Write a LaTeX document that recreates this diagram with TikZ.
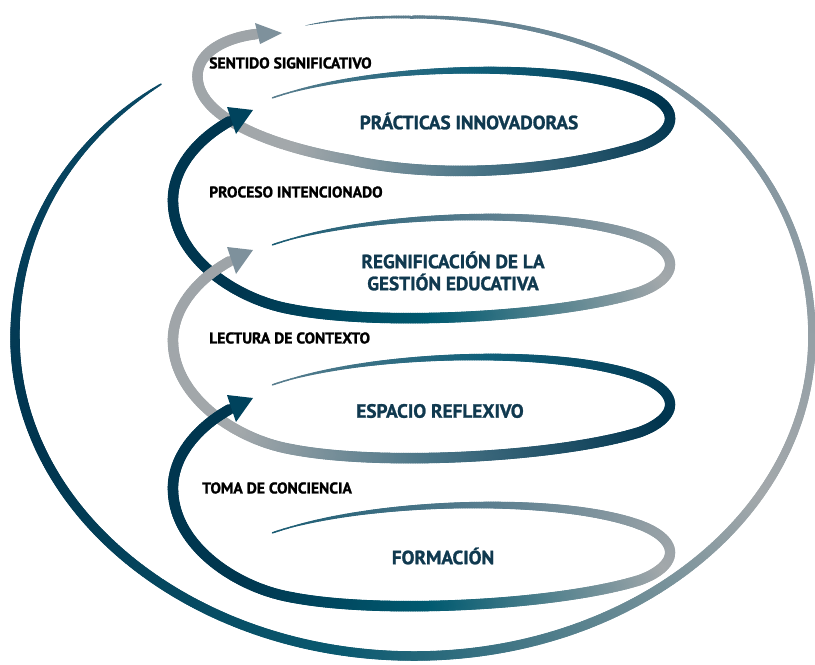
\documentclass[tikz,border=0pt]{standalone}
\usepackage{fontspec}
\setmainfont{PT Sans}[BoldFont={PT Sans Bold}, BoldFeatures={FakeBold=1.3}]
\usetikzlibrary{decorations.markings}

\definecolor{A0}{HTML}{1A5C73}
\definecolor{A1}{HTML}{5A7E8F}
\definecolor{A2}{HTML}{A3A8AB}
\definecolor{A3}{HTML}{005A70}
\definecolor{A4}{HTML}{00364F}
\definecolor{A5}{HTML}{00364F}
\definecolor{B0}{HTML}{5A7E8E}
\definecolor{B1}{HTML}{10607A}
\definecolor{B2}{HTML}{00344E}
\definecolor{B3}{HTML}{4A7587}
\definecolor{B4}{HTML}{A3A8AB}
\definecolor{B5}{HTML}{9EA4A8}
\definecolor{C0}{HTML}{4F7587}
\definecolor{C1}{HTML}{7F939E}
\definecolor{C2}{HTML}{A3A8AB}
\definecolor{C3}{HTML}{0B5A70}
\definecolor{C4}{HTML}{00344E}
\definecolor{C5}{HTML}{0A4A66}
\definecolor{arrowA}{HTML}{00435D}
\definecolor{arrowB}{HTML}{7E919C}
\definecolor{titlenavy}{HTML}{10394F}

\newcommand\ribbonmark{%
	\pgfmathsetmacro\rfrac{min(1,\pgfkeysvalueof{/pgf/decoration/mark info/distance from start}/\pgfdecoratedpathlength)}%
	\pgfmathtruncatemacro\rseg{\rfrac<0.2?0:(\rfrac<0.4?1:(\rfrac<0.62?2:(\rfrac<0.8?3:4)))}%
	\pgfmathsetmacro\rlo{{0,0.2,0.4,0.62,0.8}[\rseg]}%
	\pgfmathsetmacro\rhi{{0.2,0.4,0.62,0.8,1}[\rseg]}%
	\pgfmathtruncatemacro\rpct{max(0,min(100,100*(\rfrac-\rlo)/(\rhi-\rlo)))}%
	\pgfmathtruncatemacro\rnext{\rseg+1}%
	\colorlet{rc}{\rkind\rnext!\rpct!\rkind\rseg}%
	\pgfmathsetmacro\rwd{max(0.2,0.8536*(\rwid))}%
	\draw[rc, line width=\rwd pt, line cap=round] (0,0) -- (-2.3pt,0);%
}

\begin{document}
\begin{tikzpicture}[x=0.3mm, y=-0.3mm,
	ribbon/.style 2 args={postaction={decorate, decoration={markings, mark=between positions 0 and 1 step 2pt with {\def\rkind{#1}\def\rwid{#2}\ribbonmark}}}},
	smalltext/.style={anchor=west, inner sep=0pt, text=black, font=\fontsize{13.3}{15}\selectfont\bfseries},
	bigtext/.style={inner sep=0pt, align=center, text=titlenavy, font=\fontsize{16.4}{18.8}\selectfont\bfseries}]
		\useasboundingbox (0,0) rectangle (815,665);
		\path[ribbon={C}{9.5*min(1,sqrt(\rfrac/0.5))*min(1,sqrt(max(0,1-\rfrac)/0.15))}] (308,25) .. controls (350,17) and (380,17) .. (414,17) .. controls (660,17) and (812,160) .. (812,337) .. controls (812,513) and (634,656) .. (414,656) .. controls (194,656) and (15,513) .. (15,337) .. controls (15,215) and (85,130) .. (163,83);
		\path[ribbon={B}{10.5*max(0.05,min(1,\rfrac/0.4))^0.65}] (275,97) .. controls (370,65) and (560,60) .. (640,91) .. controls (680,106) and (680,131) .. (640,146) .. controls (560,171) and (440,180) .. (350,160) .. controls (280,148) and (205,122) .. (198,82) .. controls (193,52) and (228,37) .. (257,34);
		\fill[arrowB] (255,23) -- (282,33) -- (260,44) -- cycle;
		\foreach \dy/\kind/\tip in {-288/A/arrowA, -148/B/arrowB, 0/A/arrowA}{
			\begin{scope}[shift={(0,\dy)}]
				\path[ribbon={\kind}{10.5*max(0.05,min(1,\rfrac/0.4))^0.65}] (275,532) .. controls (370,500) and (560,495) .. (640,525) .. controls (680,540) and (680,565) .. (640,580) .. controls (560,605) and (380,615) .. (290,597) .. controls (235,587) and (174,545) .. (173,490) .. controls (172,455) and (200,425) .. (232,408);
				\fill[\tip] (227,395) -- (253,398) -- (236,422) -- cycle;
			\end{scope}
		}
		\node[smalltext] (sentido) at (209,63) {SENTIDO SIGNIFICATIVO};
		\node[smalltext] (proceso) at (209,192) {PROCESO INTENCIONADO};
		\node[smalltext] (lectura) at (209,338) {LECTURA DE CONTEXTO};
		\node[smalltext] (toma) at (202,488) {TOMA DE CONCIENCIA};
		\node[bigtext] (practicas) at (469,121) {PRÁCTICAS INNOVADORAS};
		\node[bigtext] (regnificacion) at (453,271) {REGNIFICACIÓN DE LA\\GESTIÓN EDUCATIVA};
		\node[bigtext] (espacio) at (440,411) {ESPACIO REFLEXIVO};
		\node[bigtext] (formacion) at (443,556) {FORMACIÓN};
\end{tikzpicture}
\end{document}
